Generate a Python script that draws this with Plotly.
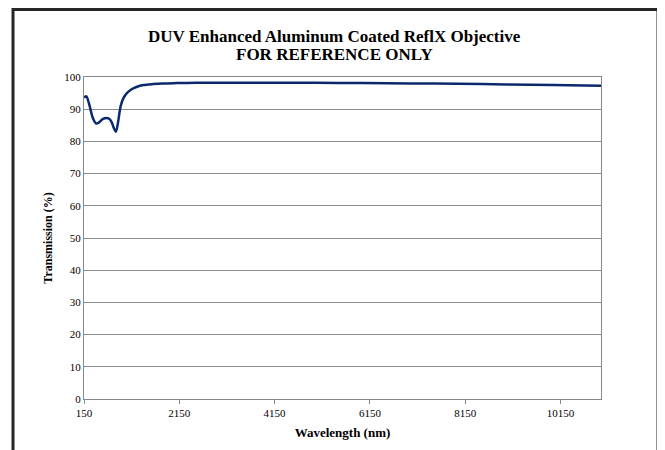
import plotly.graph_objects as go

wavelength_nm = [150, 200, 260, 330, 400, 460, 540, 620, 680, 730, 780, 820, 860, 920, 980,
                 1050, 1150, 1250, 1400, 1600, 1800, 2100, 2500, 3000, 4000, 5000, 6000,
                 7000, 8000, 9000, 10000, 11000]
transmission = [93.6, 94.0, 91.5, 87.5, 85.6, 85.8, 86.9, 87.3, 87.0, 86.0, 84.0, 83.0, 85.5,
                91.0, 93.5, 95.0, 96.2, 96.9, 97.5, 97.8, 98.0, 98.1, 98.2, 98.2, 98.2, 98.2,
                98.1, 98.0, 97.9, 97.7, 97.5, 97.3]
x_ticks = [150, 2150, 4150, 6150, 8150, 10150]
y_ticks = list(range(0, 101, 10))
title_lines = ["DUV Enhanced Aluminum Coated ReflX Objective", "FOR REFERENCE ONLY"]

# page body has an 8px margin, so the figure is sized to fill the rest of the window
W, H = 657, 442
L, T = 76, 69
pw, ph = 517, 322
R, B = W - L - pw, H - T - ph

fig = go.Figure()
fig.add_trace(go.Scatter(x=wavelength_nm, y=transmission, mode="lines",
                         line=dict(color="#0b2a6e", width=2.5, shape="spline", smoothing=0.8),
                         hoverinfo="x+y", showlegend=False))

serif = "Liberation Serif"
fig.update_layout(
    width=W, height=H,
    margin=dict(l=L, r=R, t=T, b=B),
    paper_bgcolor="white", plot_bgcolor="white",
    font=dict(family=serif, color="black", size=11),
    xaxis=dict(range=[150, 11000], tickvals=x_ticks, ticktext=[str(v) for v in x_ticks],
               showgrid=False, zeroline=False, showline=True, linecolor="#888888", linewidth=1,
               mirror=True, ticks="outside", ticklen=4, tickcolor="#888888",
               tickfont=dict(family=serif, size=11),
               title=dict(text="<b>Wavelength (nm)</b>", font=dict(family=serif, size=13), standoff=9)),
    yaxis=dict(range=[0, 100], tickvals=y_ticks, showgrid=True, gridcolor="#8c8c8c", gridwidth=1,
               zeroline=False, showline=True, linecolor="#888888", linewidth=1, mirror=True,
               ticks="", tickfont=dict(family=serif, size=11),
               title=dict(text="<b>Transmission (%)</b>", font=dict(family=serif, size=12), standoff=9)),
)

# two-line chart title (screen y centres ~36 and ~55)
cx = (L + pw / 2 - 8 - L) / pw
for line, ys in zip(title_lines, [36 - 8, 55 - 8]):
    fig.add_annotation(text=f"<b>{line}</b>", xref="paper", yref="paper",
                       x=cx, y=1 + (T - ys) / ph, xanchor="center", yanchor="middle",
                       showarrow=False, font=dict(family=serif, size=17, color="black"))

# outer chart border
x0 = (5 - L) / pw
x1 = (650 - L) / pw
y1 = 1 + (T - 1.5) / ph
y0 = (H - B - 470) / ph
fig.add_shape(type="rect", xref="paper", yref="paper", x0=x0, x1=x1, y0=y0, y1=y1,
              line=dict(color="#262626", width=3), fillcolor="rgba(0,0,0,0)", layer="above")

fig.write_html("out.html")
